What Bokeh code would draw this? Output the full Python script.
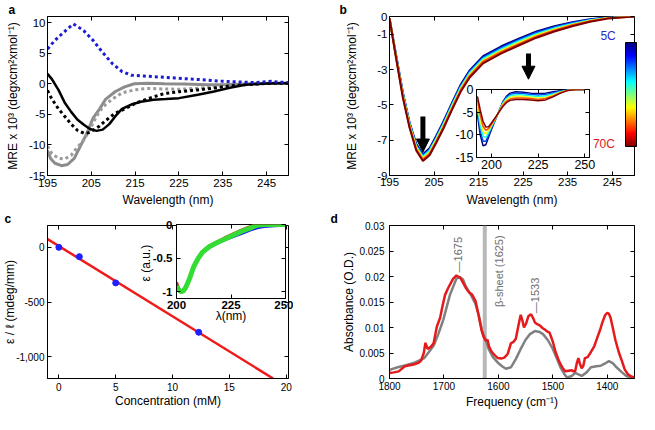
import numpy as np
from bokeh.plotting import figure
from bokeh.models import (Range1d, FixedTicker, LinearAxis, PrintfTickFormatter, NumeralTickFormatter,
                          GridBox, ColorBar, LinearColorMapper, Arrow, NormalHead)
from bokeh.core.properties import value
from bokeh.embed import file_html
from bokeh.resources import INLINE

FONT = "Liberation Sans"

# ---------------- panel a data ----------------
a_blue_x = [195, 196.7, 198.2, 199.6, 200.9, 202, 203.3, 205.4, 207.6, 209.8, 212, 214.1, 217, 220.6, 224, 227.9, 231.5, 235.1, 238.7, 242.4, 246, 248, 250]
a_blue_y = [5.7, 7.1, 8.1, 9.0, 9.77, 9.3, 8.65, 7.1, 5.1, 3.3, 2.0, 1.4, 1.27, 1.1, 0.95, 0.76, 0.6, 0.4, 0.3, 0.2, 0.4, 0.25, 0.2]
a_black_x = [195, 196, 197.5, 198.9, 200.4, 201.8, 203.3, 204.7, 206.2, 207.6, 209.1, 210.5, 212, 214.1, 216.3, 219.2, 222, 225, 229.3, 233, 236.6, 240.2, 243.8, 247, 250]
a_black_y = [1.63, 0.76, -1.0, -3.05, -4.6, -5.85, -6.7, -7.4, -7.7, -7.5, -6.6, -5.3, -4.1, -3.4, -2.95, -2.6, -2.5, -2.35, -1.8, -1.27, -0.66, -0.15, 0.0, 0.1, 0.1]
a_blackdot_x = [195, 196, 197.5, 198.9, 200.4, 201.8, 203.3, 204.4, 205.4, 206.9, 208.3, 210.5, 212.6, 215.5, 218.5, 221.7, 225, 229.3, 233, 236.6, 240, 243.8, 247, 250]
a_blackdot_y = [-1.1, -2.5, -4.1, -5.3, -6.6, -7.6, -8.1, -8.0, -7.6, -6.9, -6.0, -4.8, -4.1, -3.05, -2.3, -1.6, -1.3, -1.0, -0.7, -0.35, -0.15, 0.0, 0.1, 0.1]
a_gray_x = [195, 195.7, 196.7, 198.2, 199.6, 201.1, 202.5, 204, 205.4, 206.9, 208.3, 210.5, 212.6, 214.8, 217.8, 221.7, 226, 231.5, 235, 240, 245, 250]
a_gray_y = [-10.9, -12.2, -13.0, -13.4, -13.2, -12.2, -10.2, -8.1, -5.6, -4.1, -2.5, -1.27, -0.5, 0.0, 0.1, 0.0, -0.05, -0.15, -0.15, -0.05, 0.05, 0.1]
a_graydot_x = [195, 196, 197.5, 198.9, 200.4, 201.8, 203.3, 204.7, 206.2, 207.6, 209.8, 212, 214.8, 217.8, 221.7, 225, 229, 233, 238, 242, 246, 250]
a_graydot_y = [-10.2, -11.4, -12.2, -12.3, -11.7, -10.4, -9.2, -7.4, -5.3, -3.8, -2.5, -1.5, -1.0, -0.76, -0.85, -0.9, -0.75, -0.55, -0.2, 0.0, 0.1, 0.1]

# ---------------- panel b data ----------------
temps = [5, 18, 31, 44, 57, 70]
b_wl = [195, 196.5, 198, 199.5, 201, 202.5, 204, 205.5, 207, 209, 211, 213, 216, 220, 224, 228, 232, 236, 240, 244, 247, 250]
b_mre = [
    [-0.1, -2.2, -4.3, -6.0, -7.2, -7.8, -7.45, -6.75, -6.0, -4.9, -3.85, -3.05, -2.25, -1.7, -1.25, -0.85, -0.55, -0.32, -0.15, -0.05, -0.02, 0.0],
    [-0.1, -2.25, -4.35, -6.05, -7.27, -7.87, -7.53, -6.83, -6.08, -4.98, -3.93, -3.13, -2.33, -1.78, -1.33, -0.92, -0.61, -0.37, -0.18, -0.06, -0.02, 0.0],
    [-0.1, -2.3, -4.4, -6.1, -7.34, -7.94, -7.6, -6.9, -6.15, -5.05, -4.0, -3.2, -2.4, -1.86, -1.4, -0.99, -0.67, -0.42, -0.21, -0.08, -0.03, 0.0],
    [-0.1, -2.33, -4.45, -6.15, -7.42, -8.02, -7.68, -6.98, -6.23, -5.13, -4.08, -3.28, -2.48, -1.94, -1.48, -1.06, -0.73, -0.46, -0.24, -0.09, -0.03, 0.0],
    [-0.1, -2.36, -4.52, -6.22, -7.5, -8.1, -7.77, -7.07, -6.32, -5.22, -4.16, -3.36, -2.56, -2.02, -1.56, -1.13, -0.79, -0.5, -0.27, -0.1, -0.04, 0.0],
    [-0.1, -2.4, -4.6, -6.3, -7.58, -8.18, -7.85, -7.15, -6.4, -5.3, -4.25, -3.45, -2.65, -2.1, -1.64, -1.2, -0.85, -0.55, -0.3, -0.12, -0.05, 0.0],
]
bi_wl = [192.5, 194, 195.5, 197, 198.5, 200, 202, 204, 206, 208, 210, 213, 217, 221, 225, 229, 233, 237, 241, 245, 250]
bi_mre = [
    [-5.5, -10.0, -12.4, -12.2, -10.5, -8.8, -6.8, -4.8, -2.8, -1.5, -0.8, -0.5, -0.6, -0.8, -0.9, -0.8, -0.5, -0.25, -0.05, 0.0, 0.0],
    [-4.7, -9.0, -11.4, -11.4, -10.0, -8.5, -6.7, -4.8, -2.95, -1.75, -1.1, -0.8, -0.9, -1.1, -1.2, -1.1, -0.75, -0.4, -0.1, 0.0, 0.0],
    [-3.9, -7.9, -10.3, -10.6, -9.5, -8.2, -6.6, -4.9, -3.1, -2.0, -1.4, -1.1, -1.2, -1.4, -1.55, -1.4, -1.0, -0.5, -0.13, 0.0, 0.0],
    [-3.1, -6.8, -9.2, -9.8, -9.0, -7.9, -6.5, -4.9, -3.3, -2.3, -1.75, -1.5, -1.55, -1.7, -1.9, -1.75, -1.2, -0.6, -0.16, 0.0, 0.0],
    [-2.3, -5.6, -8.1, -9.0, -8.6, -7.7, -6.4, -5.0, -3.55, -2.6, -2.1, -1.85, -1.85, -2.0, -2.2, -2.0, -1.4, -0.7, -0.18, 0.0, 0.0],
    [-1.5, -4.5, -7.0, -8.3, -8.2, -7.4, -6.2, -5.0, -3.8, -2.9, -2.4, -2.2, -2.2, -2.3, -2.5, -2.3, -1.6, -0.8, -0.2, 0.0, 0.0],
]
arrow_x = [202.5, 226.2]
arrow_y0 = [-5.66, -2.1]
arrow_y1 = [-7.67, -3.55]
temp_labels = ["5C", "70C"]
temp_label_x = [245.8, 245.6]
temp_label_y = [-1.08, -7.21]

# ---------------- panel c data ----------------
conc = [0, 1.8, 5.0, 12.3]
ellip = [0, -85, -325, -777]
fit_x = [-1, 18.85]
fit_y = [76, -1200]
ci_lam = [200, 201, 202, 203, 204, 205, 206, 207, 208, 210, 212, 215, 218, 222, 226, 230, 234, 237, 240, 245, 250]
ci_green = [-0.92, -0.97, -1.0, -0.99, -0.95, -0.88, -0.8, -0.71, -0.62, -0.5, -0.41, -0.33, -0.28, -0.22, -0.16, -0.1, -0.05, -0.01, 0.0, 0.0, 0.0]
ci_blue = [-0.9, -0.96, -1.0, -0.99, -0.95, -0.88, -0.8, -0.71, -0.62, -0.5, -0.41, -0.34, -0.29, -0.23, -0.18, -0.13, -0.08, -0.05, -0.03, -0.02, -0.01]
ci_red = [-0.86, -0.95, -0.99, -0.98, -0.94, -0.87, -0.79, -0.7, -0.61, -0.49, -0.4, -0.32, -0.27, -0.2, -0.14, -0.08, -0.03, 0.0, 0.01, 0.0, 0.0]

# ---------------- panel d data ----------------
d_gray_wn = [1800, 1785, 1770, 1754, 1736, 1719, 1710, 1701, 1689, 1677, 1671, 1665, 1660, 1650, 1642, 1636, 1630, 1624, 1618, 1610, 1601, 1592, 1586, 1577, 1568, 1559, 1550, 1542, 1533, 1524, 1518, 1509, 1500, 1493, 1486, 1479, 1474, 1465, 1459, 1453, 1447, 1438, 1430, 1420, 1412, 1405, 1397, 1390, 1383, 1374, 1365, 1357, 1350]
d_gray_abs = [0.0017, 0.0022, 0.0026, 0.0031, 0.0040, 0.0064, 0.0088, 0.0116, 0.0164, 0.0196, 0.0199, 0.0194, 0.0181, 0.0163, 0.0146, 0.0124, 0.0093, 0.0078, 0.0058, 0.0042, 0.0031, 0.0023, 0.0019, 0.0022, 0.0038, 0.0058, 0.0076, 0.0087, 0.0093, 0.0091, 0.0087, 0.0075, 0.0058, 0.0040, 0.0022, 0.0009, 0.0002, 0.0005, 0.0011, 0.0008, 0.0005, 0.0012, 0.0022, 0.0024, 0.0025, 0.0029, 0.0034, 0.0030, 0.0022, 0.0013, 0.0005, 0.0002, 0.0]
d_red_wn = [1800, 1792, 1783, 1772, 1763, 1754, 1746, 1742, 1737, 1734, 1730, 1724, 1719, 1713, 1707, 1703, 1698, 1692, 1687, 1683, 1677, 1672, 1669, 1664, 1660, 1654, 1648, 1642, 1636, 1631, 1627, 1623, 1620, 1617, 1612, 1606, 1601, 1595, 1589, 1583, 1577, 1572, 1568, 1563, 1559, 1555, 1553, 1549, 1545, 1540, 1536, 1533, 1528, 1524, 1519, 1515, 1510, 1506, 1500, 1495, 1490, 1486, 1481, 1477, 1471, 1465, 1462, 1459, 1456, 1453, 1450, 1447, 1444, 1441, 1436, 1430, 1424, 1418, 1413, 1409, 1404, 1400, 1397, 1394, 1390, 1385, 1379, 1373, 1368, 1362, 1356, 1350]
d_red_abs = [0.0011, 0.0012, 0.0014, 0.0024, 0.0026, 0.0028, 0.0031, 0.0035, 0.0050, 0.0070, 0.0058, 0.0062, 0.0069, 0.0102, 0.0119, 0.0140, 0.0164, 0.0178, 0.0188, 0.0196, 0.0202, 0.0199, 0.0196, 0.0186, 0.0178, 0.0169, 0.0164, 0.0152, 0.0122, 0.0095, 0.0081, 0.0074, 0.0076, 0.0062, 0.0052, 0.0045, 0.0040, 0.0039, 0.0041, 0.0048, 0.0069, 0.0072, 0.0078, 0.0105, 0.0125, 0.0110, 0.0100, 0.0108, 0.0122, 0.0126, 0.0118, 0.0110, 0.0106, 0.0104, 0.0099, 0.0096, 0.0092, 0.0090, 0.0072, 0.0052, 0.0038, 0.0028, 0.0019, 0.0014, 0.0015, 0.0016, 0.0014, 0.0014, 0.0030, 0.0040, 0.0028, 0.0020, 0.0025, 0.0040, 0.0042, 0.0052, 0.0063, 0.0081, 0.0096, 0.0110, 0.0124, 0.0129, 0.0127, 0.0119, 0.0100, 0.0075, 0.0052, 0.0034, 0.0018, 0.0008, 0.0004, 0.0002]
beta_sheet = 1625
d_text = ["β-sheet (1625)", "—1675", "—1533"]
d_text_x = [1598, 1675, 1533]
d_text_y = [0.0140, 0.0208, 0.0128]


def jet_rgb(v):
    r = min(max(1.5 - abs(4 * v - 3), 0), 1)
    g = min(max(1.5 - abs(4 * v - 2), 0), 1)
    b = min(max(1.5 - abs(4 * v - 1), 0), 1)
    return "#%02x%02x%02x" % (int(r * 255), int(g * 255), int(b * 255))


JET = [jet_rgb(i / 255) for i in range(256)]


def base_fig(w, h, xr, yr, mbl, mbr, mbt, mbb, transparent=False):
    p = figure(width=w, height=h, x_range=xr, y_range=yr, output_backend="svg",
               toolbar_location=None, min_border_left=mbl, min_border_right=mbr,
               min_border_top=mbt, min_border_bottom=mbb)
    p.grid.visible = False
    p.outline_line_color = "black"
    p.outline_line_alpha = 1
    p.outline_line_width = 1
    p.background_fill_color = "white"
    p.border_fill_color = "white"
    if transparent:
        p.border_fill_alpha = 0
    return p


def setup_axis(ax, ticks, fmt, tick_size, label=None, label_size="12px", lab_stand=3, ax_stand=3, bold=False):
    ax.ticker = FixedTicker(ticks=ticks)
    ax.formatter = fmt
    ax.major_tick_in = 4
    ax.major_tick_out = 0
    ax.minor_tick_line_color = None
    ax.axis_line_color = "black"
    ax.major_tick_line_color = "black"
    ax.major_label_text_font = FONT
    ax.major_label_text_font_size = tick_size
    ax.major_label_text_color = "black"
    ax.major_label_text_font_style = "bold" if bold else "normal"
    ax.major_label_standoff = lab_stand
    if label:
        ax.axis_label = label
        ax.axis_label_text_font = FONT
        ax.axis_label_text_font_size = label_size
        ax.axis_label_text_font_style = "normal"
        ax.axis_label_text_color = "black"
        ax.axis_label_standoff = ax_stand


def add_box(p, xticks, yticks):
    for loc, ticks in (("right", yticks), ("above", xticks)):
        ax = LinearAxis(ticker=FixedTicker(ticks=ticks), major_label_text_font_size="0px",
                        major_label_text_color=None, major_label_standoff=0,
                        major_tick_in=4, major_tick_out=0,
                        minor_tick_line_color=None, axis_line_color=None)
        p.add_layout(ax, loc)


def panel_letter(p, letter, offset):
    p.title.text = letter
    p.title.align = "left"
    p.title.offset = offset
    p.title.standoff = 0
    p.title.text_font = FONT
    p.title.text_font_size = "12px"
    p.title.text_font_style = "bold"
    p.title.text_color = "black"


fmt_g = PrintfTickFormatter(format="%g")
MRE = "MRE x 10³ (degxcm²xmol⁻¹)"

# ---------------- panel a ----------------
pa = base_fig(318, 209, Range1d(195, 250), Range1d(-15, 11), 41, 30, 12, 33)
a_xt = [195, 205, 215, 225, 235, 245]
a_yt = [-15, -10, -5, 0, 5, 10]
setup_axis(pa.below[0], a_xt, fmt_g, "11.5px", "Wavelength (nm)", lab_stand=3, ax_stand=3)
setup_axis(pa.left[0], a_yt, fmt_g, "11.5px", MRE, lab_stand=2, ax_stand=6)
add_box(pa, a_xt, a_yt)
pa.line(a_gray_x, a_gray_y, line_color="#8c8c8c", line_width=3)
pa.line(a_graydot_x, a_graydot_y, line_color="#9a9a9a", line_width=3, line_dash="3 3")
pa.line(a_black_x, a_black_y, line_color="black", line_width=2.5)
pa.line(a_blackdot_x, a_blackdot_y, line_color="black", line_width=3, line_dash="3 3")
pa.line(a_blue_x, a_blue_y, line_color="#1c1cd6", line_width=3, line_dash="3 3")
panel_letter(pa, "a", -39)

# ---------------- panel b ----------------
pb = base_fig(321, 209, Range1d(195, 250), Range1d(-9, 0), 64, 5, 14, 31)
b_yt = [-9, -7, -5, -3, -1, 0]
setup_axis(pb.below[0], a_xt, fmt_g, "11.5px", "Wavelength (nm)", lab_stand=2, ax_stand=4)
setup_axis(pb.left[0], b_yt, fmt_g, "11.5px", MRE, lab_stand=2, ax_stand=15)
add_box(pb, a_xt, b_yt)
for T, ys in zip(temps, b_mre):
    pb.line(b_wl, ys, line_color=jet_rgb((T - 5) / 65), line_width=2)
for i in range(len(arrow_x)):
    pb.add_layout(Arrow(x_start=arrow_x[i], y_start=arrow_y0[i], x_end=arrow_x[i], y_end=arrow_y1[i],
                        line_width=5, line_color="black",
                        end=NormalHead(size=13, fill_color="black", line_color="black")))
pb.text(x=temp_label_x, y=temp_label_y, text=temp_labels, text_color=["#2a2ad0", "#e02020"],
        text_font=value(FONT), text_font_size=value("12px"), text_align="right", text_baseline="middle")
cb = ColorBar(color_mapper=LinearColorMapper(palette=list(reversed(JET)), low=0, high=1),
              location=(236, 29), width=11, height=104, padding=0, margin=0,
              major_label_text_font_size="0px", major_label_text_color=None,
              major_tick_line_color=None, minor_tick_line_color=None,
              bar_line_color="black", border_line_color=None, background_fill_alpha=0,
              orientation="vertical", label_standoff=0)
pb.add_layout(cb, "center")
panel_letter(pb, "b", -50)

# inset b
pbi = base_fig(153, 93, Range1d(192, 252.5), Range1d(-15, 0), 32, 8, 7, 18, transparent=True)
bi_xt = [200, 225, 250]
bi_yt = [-15, -10, -5, 0]
setup_axis(pbi.below[0], bi_xt, fmt_g, "12.5px", lab_stand=2)
setup_axis(pbi.left[0], bi_yt, fmt_g, "12.5px", lab_stand=3)
add_box(pbi, bi_xt, bi_yt)
for T, ys in zip(temps, bi_mre):
    pbi.line(bi_wl, ys, line_color=jet_rgb((T - 5) / 65), line_width=1.5)

# ---------------- panel c ----------------
pc = base_fig(318, 205, Range1d(-1, 20.2), Range1d(-1200, 200), 45, 27, 10, 36)
c_xt = [0, 5, 10, 15, 20]
c_yt = [-1000, -500, 0]
setup_axis(pc.below[0], c_xt, fmt_g, "10px", "Concentration (mM)", lab_stand=4, ax_stand=0)
setup_axis(pc.left[0], c_yt, NumeralTickFormatter(format="0,0"), "10px", "ε / ℓ (mdeg/mm)", lab_stand=3, ax_stand=-4)
add_box(pc, c_xt, c_yt)
pc.line(fit_x, fit_y, line_color="#f01a1a", line_width=2.5)
pc.scatter(conc, ellip, size=6, fill_color="#1f1fff", line_color="#1f1fff")
panel_letter(pc, "c", -43)

# inset c
pci = base_fig(158, 107, Range1d(200, 250), Range1d(-1.1, 0), 39, 8, 6, 26, transparent=True)
ci_xt = [200, 225, 250]
ci_yt = [-1, -0.5, 0]
setup_axis(pci.below[0], ci_xt, fmt_g, "11.5px", "λ(nm)", label_size="12px", lab_stand=2, ax_stand=-3, bold=True)
setup_axis(pci.left[0], ci_yt, fmt_g, "11.5px", "ε  (a.u.)", label_size="12px", lab_stand=4, ax_stand=-3, bold=True)
add_box(pci, ci_xt, ci_yt)
pci.line(ci_lam, ci_blue, line_color="#1a1aff", line_width=3)
pci.line(ci_lam, ci_red, line_color="#e02020", line_width=3)
pci.line(ci_lam, ci_green, line_color="#33dd33", line_width=5)

# ---------------- panel d ----------------
pd_ = base_fig(321, 205, Range1d(1800, 1350), Range1d(0, 0.03), 71, 2, 9, 33)
d_xt = [1800, 1700, 1600, 1500, 1400]
d_yt = [0, 0.005, 0.01, 0.015, 0.02, 0.025, 0.03]
setup_axis(pd_.below[0], d_xt, fmt_g, "10px", "Frequency (cm⁻¹)", lab_stand=3, ax_stand=2)
setup_axis(pd_.left[0], d_yt, fmt_g, "10px", "Absorbance (O.D.)", lab_stand=5, ax_stand=0)
add_box(pd_, d_xt, d_yt)
pd_.line([beta_sheet, beta_sheet], [0, 0.03], line_color="#b8b8b8", line_width=4)
pd_.line(d_gray_wn, d_gray_abs, line_color="#808080", line_width=2.5)
pd_.line(d_red_wn, d_red_abs, line_color="#e41a1c", line_width=2.5)
pd_.text(x=d_text_x, y=d_text_y, text=d_text, angle=np.pi / 2, text_color="#6e6e6e",
         text_font=value(FONT), text_font_size=value("11px"), text_align="left", text_baseline="middle")
panel_letter(pd_, "d", -59)

grid = GridBox(children=[(pa, 0, 0, 3, 3), (pb, 0, 3, 3, 3), (pc, 3, 0, 3, 3), (pd_, 3, 3, 3, 3),
                         (pbi, 1, 4, 1, 1), (pci, 4, 1, 1, 1)],
               cols=["135px", "158px", "25px", "126px", "153px", "42px"],
               rows=["82px", "93px", "34px", "9px", "107px", "89px"], spacing=0)

open("out.html", "w").write(file_html(grid, INLINE, title="CD and IR spectra"))
